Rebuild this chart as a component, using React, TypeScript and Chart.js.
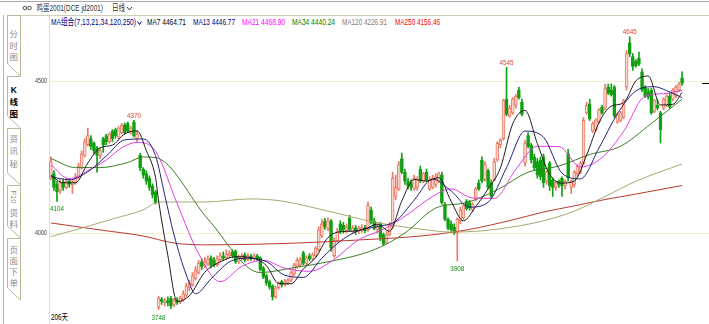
import React, { useEffect, useRef } from "react";
import { Chart, registerables } from "chart.js";

Chart.register(...registerables);

// ---------- candle data (206 days) ----------
const opens = [
  4180, 4195, 4160, 4140, 4168, 4150, 4170, 4158, 4165, 4185,
  4215, 4255, 4290, 4310, 4295, 4280, 4255, 4310, 4320, 4300,
  4335, 4340, 4315, 4330, 4355, 4360, 4330, 4365, 4310, 4255,
  4210, 4195, 4180, 4155, 4135, 3755, 3782, 3770, 3778, 3785,
  3765, 3780, 3772, 3780, 3795, 3820, 3830, 3850, 3870, 3905,
  3890, 3900, 3918, 3912, 3895, 3912, 3925, 3918, 3925, 3938,
  3940, 3905, 3915, 3928, 3912, 3925, 3915, 3925, 3918, 3885,
  3860, 3840, 3825, 3790, 3820, 3840, 3830, 3835, 3845, 3865,
  3890, 3895, 3935, 3900, 3925, 3915, 3925, 3945, 3990, 4040,
  4015, 4040, 3925, 3975, 4030, 4025, 4008, 4050, 4005, 4018,
  4005, 4010, 4018, 4010, 4075, 4040, 4010, 4030, 3995, 3970,
  3995, 4020, 4120, 4145, 4245, 4200, 4170, 4165, 4145, 4150,
  4210, 4170, 4200, 4145, 4150, 4160, 4170, 4190, 4095, 4045,
  4030, 4020, 4000, 4040, 4050, 4105, 4100, 4075, 4110, 4165,
  4240, 4175, 4205, 4165, 4175, 4240, 4290, 4310, 4440, 4385,
  4395, 4420, 4470, 4430, 4230, 4320, 4290, 4250, 4235, 4240,
  4250, 4170, 4230, 4175, 4150, 4170, 4180, 4155, 4260, 4150,
  4160, 4195, 4200, 4230, 4395, 4425, 4335, 4340, 4365, 4415,
  4410, 4480, 4470, 4480, 4365, 4370, 4380, 4480, 4625, 4580,
  4565, 4575, 4530, 4478, 4465, 4470, 4400, 4420, 4395, 4410,
  4420, 4450, 4440, 4450, 4470, 4510,
];
const highs = [
  4250, 4205, 4170, 4175, 4178, 4180, 4178, 4175, 4195, 4230,
  4270, 4310, 4345, 4320, 4300, 4285, 4280, 4315, 4325, 4330,
  4340, 4345, 4350, 4360, 4362, 4365, 4350, 4370, 4335, 4262,
  4215, 4205, 4188, 4162, 4140, 3792, 3788, 3785, 3790, 3792,
  3785, 3788, 3792, 3810, 3835, 3845, 3870, 3890, 3910, 3915,
  3920, 3925, 3925, 3920, 3925, 3935, 3938, 3945, 3942, 3945,
  3945, 3928, 3932, 3935, 3932, 3930, 3932, 3930, 3922, 3890,
  3865, 3845, 3830, 3825, 3840, 3845, 3848, 3850, 3875, 3900,
  3918, 3920, 3940, 3925, 3932, 3935, 3955, 4020, 4045, 4048,
  4050, 4045, 3985, 4015, 4040, 4035, 4030, 4058, 4025, 4025,
  4022, 4028, 4025, 4102, 4085, 4048, 4030, 4035, 4000, 4005,
  4035, 4200, 4190, 4235, 4263, 4210, 4180, 4175, 4190, 4185,
  4220, 4200, 4210, 4185, 4190, 4195, 4200, 4200, 4100, 4050,
  4040, 4030, 4050, 4085, 4095, 4110, 4108, 4100, 4150, 4175,
  4250, 4235, 4210, 4175, 4245, 4300, 4310, 4440, 4545, 4420,
  4445, 4455, 4480, 4440, 4305, 4330, 4295, 4260, 4245, 4250,
  4260, 4205, 4235, 4180, 4170, 4175, 4185, 4175, 4275, 4175,
  4205, 4225, 4235, 4380, 4430, 4440, 4365, 4375, 4410, 4420,
  4490, 4490, 4490, 4485, 4395, 4400, 4440, 4600, 4645, 4590,
  4570, 4595, 4540, 4485, 4475, 4475, 4440, 4440, 4400, 4445,
  4455, 4460, 4475, 4485, 4495, 4530,
];
const lows = [
  4175, 4140, 4104, 4130, 4140, 4145, 4150, 4130, 4160, 4180,
  4210, 4250, 4285, 4275, 4260, 4200, 4245, 4265, 4290, 4295,
  4300, 4312, 4310, 4325, 4325, 4330, 4325, 4315, 4300, 4205,
  4180, 4160, 4140, 4115, 4095, 3748, 3765, 3760, 3760, 3752,
  3758, 3765, 3768, 3775, 3790, 3810, 3825, 3845, 3865, 3880,
  3885, 3893, 3885, 3888, 3890, 3905, 3910, 3912, 3918, 3918,
  3900, 3900, 3910, 3905, 3908, 3910, 3910, 3908, 3875, 3850,
  3828, 3815, 3780, 3785, 3815, 3822, 3825, 3830, 3840, 3860,
  3885, 3888, 3895, 3895, 3908, 3910, 3920, 3940, 3985, 4012,
  4008, 3940, 3920, 3970, 3998, 4000, 4000, 4005, 3998, 3995,
  3998, 4002, 4000, 4005, 4030, 4010, 4000, 3975, 3958, 3965,
  3990, 4015, 4110, 4140, 4195, 4160, 4145, 4140, 4140, 4140,
  4165, 4165, 4168, 4140, 4145, 4150, 4165, 4095, 4040, 4010,
  4005, 3995, 3908, 4030, 4045, 4075, 4075, 4070, 4105, 4140,
  4165, 4170, 4145, 4115, 4170, 4235, 4280, 4305, 4385, 4380,
  4390, 4410, 4440, 4385, 4220, 4280, 4230, 4205, 4180, 4175,
  4150, 4160, 4140, 4120, 4140, 4150, 4120, 4145, 4170, 4130,
  4150, 4185, 4195, 4225, 4390, 4370, 4330, 4335, 4360, 4390,
  4405, 4455, 4450, 4380, 4360, 4365, 4375, 4470, 4580, 4535,
  4545, 4550, 4465, 4445, 4440, 4390, 4395, 4405, 4296, 4405,
  4415, 4410, 4435, 4445, 4465, 4485,
];
const closes = [
  4235, 4150, 4135, 4165, 4150, 4170, 4160, 4168, 4185, 4220,
  4260, 4300, 4320, 4285, 4270, 4255, 4270, 4290, 4300, 4325,
  4310, 4320, 4345, 4355, 4330, 4335, 4345, 4320, 4325, 4215,
  4190, 4170, 4150, 4125, 4100, 3785, 3775, 3778, 3770, 3760,
  3778, 3772, 3785, 3800, 3825, 3835, 3860, 3880, 3900, 3890,
  3905, 3915, 3893, 3895, 3915, 3925, 3918, 3930, 3935, 3925,
  3905, 3920, 3925, 3912, 3925, 3918, 3925, 3915, 3880, 3855,
  3835, 3822, 3790, 3820, 3835, 3830, 3840, 3845, 3870, 3895,
  3910, 3912, 3900, 3918, 3915, 3928, 3950, 4010, 4030, 4020,
  4040, 3950, 3975, 4005, 4005, 4010, 4020, 4012, 4015, 4005,
  4015, 4018, 4008, 4090, 4035, 4015, 4020, 3985, 3965, 3995,
  4025, 4180, 4150, 4225, 4200, 4170, 4155, 4150, 4180, 4175,
  4170, 4195, 4175, 4175, 4180, 4185, 4195, 4100, 4045, 4015,
  4010, 4000, 4045, 4075, 4090, 4080, 4082, 4095, 4145, 4145,
  4170, 4225, 4150, 4120, 4235, 4295, 4305, 4435, 4390, 4410,
  4440, 4450, 4445, 4390, 4296, 4285, 4240, 4215, 4190, 4185,
  4165, 4200, 4155, 4150, 4165, 4160, 4155, 4170, 4180, 4170,
  4200, 4220, 4230, 4370, 4420, 4375, 4360, 4372, 4405, 4395,
  4475, 4460, 4455, 4385, 4390, 4395, 4435, 4590, 4590, 4548,
  4550, 4555, 4470, 4450, 4448, 4395, 4435, 4410, 4340, 4440,
  4450, 4415, 4470, 4480, 4490, 4492,
];

// ---------- moving averages at sample days ----------
const ma7X = [0, 4, 8, 12, 16, 20, 24, 28, 31, 34, 35, 38, 41, 45, 50, 55, 60, 65, 70, 74, 78, 82, 86, 90, 94, 98, 102, 106, 110, 114, 118, 122, 126, 130, 134, 138, 142, 146, 150, 154, 158, 162, 166, 170, 174, 178, 182, 186, 190, 194, 198, 202, 205];
const ma7Y = [4190, 4165, 4165, 4230, 4280, 4289, 4326, 4336, 4271, 4182, 4105, 3926, 3775, 3794, 3871, 3905, 3922, 3919, 3893, 3834, 3833, 3882, 3919, 3985, 4004, 4006, 4013, 4029, 4006, 4106, 4176, 4171, 4182, 4104, 4040, 4087, 4145, 4214, 4359, 4403, 4294, 4193, 4164, 4171, 4256, 4362, 4417, 4428, 4500, 4516, 4421, 4423, 4462];
const ma13X = [0, 6, 12, 18, 24, 30, 34, 37, 40, 44, 47, 52, 58, 64, 70, 76, 82, 88, 94, 100, 106, 112, 118, 124, 130, 136, 142, 148, 154, 160, 166, 172, 178, 184, 190, 196, 200, 205];
const ma13Y = [4185, 4175, 4201, 4253, 4306, 4309, 4254, 4124, 3994, 3862, 3800, 3849, 3905, 3917, 3906, 3861, 3854, 3917, 3973, 4008, 4021, 4039, 4108, 4177, 4138, 4085, 4101, 4215, 4335, 4315, 4197, 4178, 4279, 4392, 4467, 4481, 4468, 4445];
const ma21X = [0, 6, 12, 18, 23, 28, 34, 41, 48, 55, 62, 69, 76, 84, 92, 100, 108, 116, 124, 130, 137, 144, 151, 158, 165, 172, 179, 186, 193, 199, 205];
const ma21Y = [4224, 4178, 4205, 4240, 4280, 4298, 4269, 4097, 3932, 3840, 3890, 3910, 3884, 3874, 3913, 3978, 4012, 4062, 4120, 4145, 4115, 4114, 4209, 4285, 4284, 4217, 4248, 4334, 4450, 4458, 4469];
const ma34X = [0, 8, 16, 25, 30, 34, 51, 68, 80, 90, 105, 115, 125, 135, 145, 155, 165, 175, 185, 195, 205];
const ma34Y = [4245, 4215, 4215, 4232, 4250, 4248, 4046, 3870, 3888, 3905, 3945, 4000, 4082, 4100, 4142, 4200, 4220, 4258, 4285, 4360, 4440];
const ma120X = [0, 10, 20, 30, 35, 50, 65, 75, 90, 105, 120, 130, 140, 150, 160, 170, 180, 190, 205];
const ma120Y = [3988, 4016, 4046, 4076, 4102, 4102, 4112, 4105, 4072, 4036, 4013, 4003, 4007, 4020, 4040, 4072, 4120, 4170, 4227];
const ma250X = [0, 16, 30, 40, 50, 80, 100, 120, 135, 150, 160, 170, 180, 190, 205];
const ma250Y = [4033, 4010, 3990, 3967, 3961, 3967, 3977, 3990, 4010, 4043, 4069, 4089, 4110, 4128, 4156];

const yTicks = [4000, 4500];
const highMarks = [27, 148, 188];
const lowMarks = [2, 35, 132];

const legendItems = [
  { text: "MA7 4464.71", x: 147, w: 39, color: "#000000" },
  { text: "MA13 4446.77", x: 193, w: 42, color: "#000080" },
  { text: "MA21 4468.90", x: 242, w: 43, color: "#ff00ff" },
  { text: "MA34 4440.24", x: 292, w: 43, color: "#008000" },
  { text: "MA120 4226.91", x: 342, w: 45, color: "#808080" },
  { text: "MA250 4156.46", x: 395, w: 45, color: "#ff0000" },
];

const tabs = [
  { chars: ["分", "时", "图"], top: 15, bottom: 76, ys: [34, 45.5, 57], active: false },
  { chars: ["K", "线", "图"], top: 76, bottom: 128, ys: [90, 102, 113.5], active: true },
  { chars: ["资", "讯", "秘"], top: 128, bottom: 185, ys: [139, 151, 164], active: false },
  { chars: ["资", "料"], top: 185, bottom: 238, ys: [213, 224], active: false, rot: "F10" },
  { chars: ["页", "面", "下", "单"], top: 238, bottom: 300, ys: [250, 261, 272, 283], active: false },
];

const W = 709;
const H = 324;
const FONT = '"Liberation Sans", Arial, "Noto Sans CJK SC", sans-serif';
const UP_LINE = "#ee7864";
const UP_FILL = "#fbd8ce";
const DOWN = "#12a012";

const isUp = (i: number) => closes[i] >= opens[i];
const pts = (xs: number[], ys: number[]) => xs.map((x, k) => ({ x, y: ys[k] }));

const lineDs = (label: string, xs: number[], ys: number[], color: string) => ({
  type: "line" as const,
  label,
  data: pts(xs, ys),
  borderColor: color,
  borderWidth: 1,
  pointRadius: 0,
  fill: false,
  cubicInterpolationMode: "monotone" as const,
});

const overlayPlugin = {
  id: "overlay",
  beforeDatasetsDraw(chart: any) {
    const { ctx, chartArea: a, scales } = chart;
    const y = scales.y;
    ctx.save();
    ctx.lineWidth = 1;
    ctx.strokeStyle = "#f0f0cc";
    yTicks.forEach((v) => {
      const py = Math.round(y.getPixelForValue(v)) + 0.5;
      ctx.beginPath();
      ctx.moveTo(a.left, py);
      ctx.lineTo(W, py);
      ctx.stroke();
    });
    ctx.strokeStyle = "#e2e2b6";
    ctx.beginPath();
    ctx.moveTo(a.left + 0.5, 16);
    ctx.lineTo(a.left + 0.5, H);
    ctx.stroke();
    ctx.restore();
  },
  afterDatasetsDraw(chart: any) {
    const { ctx, chartArea: a, scales } = chart;
    const x = scales.x;
    const y = scales.y;
    ctx.save();
    ctx.font = `7.5px ${FONT}`;
    ctx.fillStyle = "#3a3a3a";
    ctx.textAlign = "right";
    ctx.textBaseline = "middle";
    yTicks.forEach((v) => ctx.fillText(String(v), a.left - 2, y.getPixelForValue(v), 12));
    ctx.font = `8px ${FONT}`;
    ctx.textAlign = "center";
    ctx.textBaseline = "alphabetic";
    ctx.fillStyle = "#e0402c";
    highMarks.forEach((i) =>
      ctx.fillText(String(highs[i]), x.getPixelForValue(i), y.getPixelForValue(highs[i]) - 2.5, 14)
    );
    ctx.fillStyle = "#109010";
    lowMarks.forEach((i) =>
      ctx.fillText(String(lows[i]), x.getPixelForValue(i), y.getPixelForValue(lows[i]) + 10, 14)
    );
    const py = Math.round(y.getPixelForValue(closes[closes.length - 1])) + 0.5;
    ctx.strokeStyle = "#000";
    ctx.lineWidth = 1;
    ctx.beginPath();
    ctx.moveTo(a.right + 7, py);
    ctx.lineTo(W, py);
    ctx.stroke();
    ctx.restore();
  },
};

export default function App() {
  const ref = useRef<HTMLCanvasElement>(null);

  useEffect(() => {
    const canvas = ref.current;
    if (!canvas) return;
    const chart = new Chart(canvas, {
      type: "bar",
      data: {
        datasets: [
          lineDs("MA7", ma7X, ma7Y, "#1c1c1c"),
          lineDs("MA13", ma13X, ma13Y, "#22227a"),
          lineDs("MA21", ma21X, ma21Y, "#e03ce0"),
          lineDs("MA34", ma34X, ma34Y, "#3e7e22"),
          lineDs("MA120", ma120X, ma120Y, "#a8a872"),
          lineDs("MA250", ma250X, ma250Y, "#b83a2c"),
          {
            type: "bar",
            label: "body",
            data: opens.map((o, i) => ({ x: i, y: [o, closes[i]] })),
            backgroundColor: (c: any) => (isUp(c.dataIndex) ? UP_FILL : DOWN),
            borderColor: (c: any) => (isUp(c.dataIndex) ? UP_LINE : DOWN),
            borderWidth: 1,
            borderSkipped: false,
            barThickness: 3,
            grouped: false,
            minBarLength: 1,
          },
          {
            type: "bar",
            label: "wick",
            data: lows.map((l, i) => ({ x: i, y: [l, highs[i]] })),
            backgroundColor: (c: any) => (isUp(c.dataIndex) ? UP_LINE : DOWN),
            borderWidth: 0,
            barThickness: 1,
            grouped: false,
          },
        ] as any,
      },
      options: {
        animation: false,
        responsive: false,
        maintainAspectRatio: false,
        devicePixelRatio: 1,
        layout: { padding: { left: 49, top: 28, right: 14, bottom: 2 } },
        plugins: { legend: { display: false }, tooltip: { enabled: false } },
        events: [],
        scales: {
          x: { type: "linear", min: -0.6, max: 209.2, display: false, offset: false },
          y: { type: "linear", min: 3707.3, max: 4674, display: false },
        },
      } as any,
      plugins: [overlayPlugin],
    });
    return () => chart.destroy();
  }, []);

  return (
    <div
      style={{
        position: "fixed",
        left: 0,
        top: 0,
        width: W,
        height: H,
        background: "#ffffff",
        overflow: "hidden",
      }}
    >
      <svg width={W} height={H} style={{ position: "absolute", left: 0, top: 0 }}>
        <line x1={0} y1={1.5} x2={W} y2={1.5} stroke="#a8a8a8" />
        <line x1={7} y1={15.5} x2={W} y2={15.5} stroke="#cfcfb6" />
        <line x1={3.5} y1={15} x2={3.5} y2={H} stroke="#b4b4a4" />
        {/* header */}
        <circle cx={25} cy={8} r={1.8} fill="none" stroke="#555" strokeWidth={1} />
        <circle cx={29.5} cy={8} r={1.8} fill="none" stroke="#555" strokeWidth={1} />
        <text x={36.5} y={11} fontSize={9} fill="#333" fontFamily={FONT} textLength={66.5} lengthAdjust="spacingAndGlyphs">
          鸡蛋2001(DCE jd2001)
        </text>
        <text x={112} y={11} fontSize={9} fill="#333" fontFamily={FONT} textLength={13} lengthAdjust="spacingAndGlyphs">
          日线
        </text>
        <polyline points="127,7 129.5,10 132,7" fill="none" stroke="#333" strokeWidth={1} />
        {/* legend */}
        <text x={51} y={25} fontSize={9.5} fill="#000080" fontFamily={FONT} textLength={85} lengthAdjust="spacingAndGlyphs">
          MA组合(7,13,21,34,120,250)
        </text>
        <polyline points="137.5,21.5 139.5,24.5 141.5,21.5" fill="none" stroke="#000080" strokeWidth={1} />
        {legendItems.map((it) => (
          <text
            key={it.text}
            x={it.x}
            y={25}
            fontSize={9.5}
            fill={it.color}
            fontFamily={FONT}
            textLength={it.w}
            lengthAdjust="spacingAndGlyphs"
          >
            {it.text}
          </text>
        ))}
        {/* left tabs */}
        {tabs.map((t, k) => (
          <g key={k}>
            <path
              d={
                `M20.5,${t.top + 0.5} L7.5,${t.top + 0.5} L7.5,${t.bottom - 12} L20.5,${t.bottom}` +
                (t.active ? "" : ` L20.5,${t.top + 0.5}`)
              }
              fill="#ffffff"
              stroke="#b8b898"
              strokeWidth={1}
            />
            {t.rot ? (
              <text
                x={13.5}
                y={197}
                fontSize={7.5}
                fill="#8c8c8c"
                fontFamily={FONT}
                textAnchor="middle"
                dominantBaseline="central"
                transform="rotate(90 13.5 197)"
              >
                {t.rot}
              </text>
            ) : null}
            {t.chars.map((ch, j) => (
              <text
                key={j}
                x={13.8}
                y={t.ys[j]}
                fontSize={8.5}
                fill={t.active ? "#000" : "#8c8c8c"}
                fontWeight={t.active ? 700 : 400}
                fontFamily={FONT}
                textAnchor="middle"
                dominantBaseline="central"
              >
                {ch}
              </text>
            ))}
          </g>
        ))}
        <text x={51} y={320} fontSize={9} fill="#000" fontFamily={FONT} textLength={17} lengthAdjust="spacingAndGlyphs">
          206天
        </text>
      </svg>
      <canvas
        ref={ref}
        width={W}
        height={H}
        style={{ position: "absolute", left: 0, top: 0, width: W, height: H }}
      />
    </div>
  );
}
